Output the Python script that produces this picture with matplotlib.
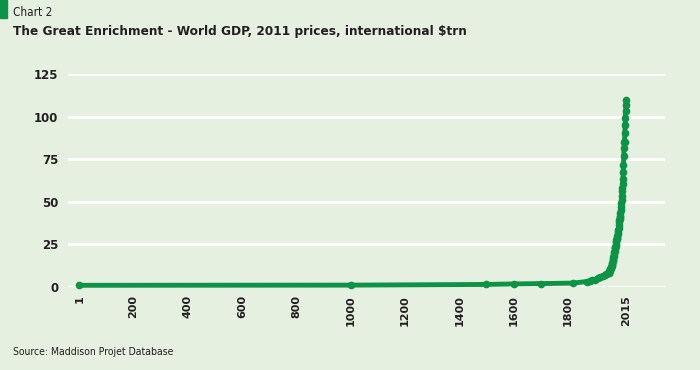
import matplotlib.pyplot as plt
from matplotlib.patches import Rectangle

# World GDP, 2011 prices, international $trn
early_years = [1, 1000, 1500, 1600, 1700, 1820, 1870, 1880, 1890, 1900, 1913, 1920, 1929, 1938, 1940]
early_gdp = [1.0, 1.1, 1.5, 1.8, 2.0, 2.3, 3.2, 3.5, 3.9, 4.4, 5.5, 5.6, 6.5, 7.3, 7.7]

modern_years = list(range(1950, 2016))
modern_gdp = [
    8.0, 8.4, 8.7, 9.1, 9.4, 9.9, 10.3, 10.6, 10.9, 11.4,
    11.9, 12.3, 12.9, 13.5, 14.3, 15.0, 15.8, 16.4, 17.4, 18.4,
    19.5, 20.3, 21.3, 22.6, 23.1, 23.5, 24.3, 25.3, 26.4, 27.3,
    27.9, 28.5, 28.9, 29.8, 31.2, 32.4, 33.6, 34.9, 36.6, 38.0,
    39.2, 39.9, 40.9, 41.9, 43.5, 45.2, 47.2, 49.4, 51.0, 53.3,
    56.4, 58.2, 60.3, 63.4, 67.5, 71.8, 76.6, 81.7, 84.9, 84.9,
    90.5, 95.0, 99.2, 103.3, 106.7, 109.5,
]

years = early_years + modern_years
gdp = early_gdp + modern_gdp

x_ticks = [1, 200, 400, 600, 800, 1000, 1200, 1400, 1600, 1800, 2015]
y_ticks = [0, 25, 50, 75, 100, 125]

bg = "#e5f0e1"
green = "#0c9346"
text_col = "#231f20"
narrow = dict(family="DejaVu Sans", fontstretch="condensed", color=text_col, va="center")

fig = plt.figure(figsize=(7, 3.7), dpi=100, facecolor=bg)
ax = fig.add_axes([68 / 700, 1 - 287 / 370, (665 - 68) / 700, (287 - 74) / 370])
ax.set_facecolor(bg)

for y in y_ticks:
    ax.axhline(y, color="white", lw=2, zorder=1)

ax.plot(years, gdp, color=green, lw=3.5, marker="o", ms=4.5,
        solid_capstyle="round", zorder=3, clip_on=False)

ax.set_xlim(-41, 2158)
ax.set_ylim(0, 125)
ax.set_xticks(x_ticks)
ax.set_xticklabels([str(t) for t in x_ticks], rotation=90, fontsize=8,
                   fontweight="bold", color=text_col)
ax.set_yticks(y_ticks)
ax.set_yticklabels([str(t) for t in y_ticks], fontsize=8.5,
                   fontweight="bold", color=text_col)
ax.tick_params(length=0, pad=7)
ax.tick_params(axis="x", pad=6)
for s in ax.spines.values():
    s.set_visible(False)

fig.patches.append(Rectangle((0, 1 - 18 / 370), 7 / 700, 18 / 370,
                             transform=fig.transFigure, color=green))
fig.text(13 / 700, 1 - 13 / 370, "Chart 2", fontsize=8.5, **narrow)
fig.text(13 / 700, 1 - 32 / 370,
         "The Great Enrichment - World GDP, 2011 prices, international $trn",
         fontsize=9.7, fontweight="bold", **narrow)
fig.text(13 / 700, 1 - 352 / 370, "Source: Maddison Projet Database",
         fontsize=7.5, **narrow)

fig.savefig("out.png", dpi=100, facecolor=bg)
